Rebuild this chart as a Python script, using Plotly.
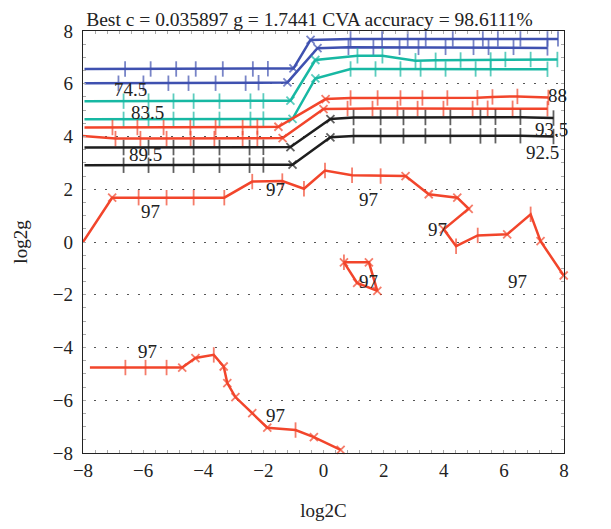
import plotly.graph_objects as go

# ---------------- data ----------------
title_text = "Best c = 0.035897 g = 1.7441 CVA accuracy = 98.6111%"

blue_a_x = [-7.95, -6.6, -5.75, -4.9, -4.25, -3.35, -2.35, -1.85, -1.0, -0.43, 0.9, 1.95, 2.8, 3.4, 4.3, 5.3, 5.8, 6.55, 7.45, 7.8]
blue_a_y = [6.56, 6.56, 6.56, 6.56, 6.56, 6.56, 6.56, 6.57, 6.58, 7.66, 7.70, 7.70, 7.70, 7.70, 7.70, 7.70, 7.70, 7.70, 7.70, 7.70]

blue_b_x = [-7.95, -6.82, -5.99, -5.16, -4.49, -3.59, -2.59, -2.16, -1.2, -0.2, 0.83, 1.66, 2.53, 3.16, 4.06, 4.99, 5.49, 6.32, 7.45]
blue_b_y = [6.02, 6.02, 6.02, 6.02, 6.02, 6.02, 6.02, 6.04, 6.05, 7.35, 7.38, 7.38, 7.38, 7.38, 7.38, 7.38, 7.38, 7.38, 7.36]

teal_a_x = [-7.95, -6.65, -5.82, -4.99, -4.32, -3.46, -2.43, -2.0, -1.1, -0.27, 1.13, 1.96, 3.06, 3.73, 4.56, 5.56, 6.05, 6.89, 7.78]
teal_a_y = [5.34, 5.34, 5.34, 5.34, 5.34, 5.34, 5.34, 5.35, 5.36, 6.90, 7.06, 7.06, 6.87, 6.89, 6.90, 6.90, 6.92, 6.92, 6.92]

teal_b_x = [-7.95, -6.65, -5.82, -4.99, -4.32, -3.46, -2.43, -2.0, -1.03, -0.27, 0.9, 1.73, 2.56, 3.23, 4.06, 5.06, 5.56, 7.45]
teal_b_y = [4.65, 4.65, 4.65, 4.65, 4.65, 4.65, 4.65, 4.66, 4.67, 6.20, 6.56, 6.56, 6.56, 6.56, 6.56, 6.56, 6.57, 6.55]

red_a_x = [-7.95, -7.02, -6.19, -5.32, -4.43, -3.59, -2.69, -2.2, -1.5, 0.07, 0.9, 1.8, 2.56, 3.29, 4.12, 5.12, 5.62, 6.45, 7.48]
red_a_y = [4.34, 4.34, 4.34, 4.34, 4.34, 4.34, 4.34, 4.36, 4.37, 5.42, 5.46, 5.46, 5.46, 5.46, 5.46, 5.47, 5.50, 5.52, 5.48]

red_b_x = [-8.0, -6.92, -6.09, -5.22, -4.42, -3.63, -2.69, -2.2, -1.36, 0.0, 0.8, 1.63, 2.46, 3.13, 3.99, 4.96, 5.46, 6.29, 7.45]
red_b_y = [4.02, 3.92, 3.92, 3.92, 3.92, 3.92, 3.92, 3.93, 3.94, 5.04, 5.06, 5.06, 5.06, 5.06, 5.06, 5.06, 5.07, 5.07, 5.05]

black_a_x = [-7.95, -6.65, -5.82, -4.99, -4.32, -3.46, -2.46, -2.0, -1.1, 0.23, 1.0, 1.9, 2.66, 3.39, 4.22, 5.22, 5.72, 6.55, 7.65]
black_a_y = [3.58, 3.58, 3.58, 3.58, 3.58, 3.58, 3.58, 3.59, 3.60, 4.66, 4.72, 4.72, 4.72, 4.72, 4.72, 4.72, 4.73, 4.73, 4.70]

black_b_x = [-7.95, -6.65, -5.82, -4.99, -4.32, -3.46, -2.46, -2.0, -1.03, 0.23, 1.0, 1.9, 2.66, 3.39, 4.22, 5.22, 5.72, 6.55, 7.65]
black_b_y = [2.91, 2.91, 2.91, 2.91, 2.91, 2.91, 2.91, 2.92, 2.93, 3.97, 4.02, 4.02, 4.02, 4.02, 4.02, 4.02, 4.03, 4.03, 4.00]

r97_a_x = [-8.0, -7.03, -6.15, -5.22, -4.32, -3.3, -2.37, -1.37, -0.65, 0.05, 0.95, 1.9, 2.73, 3.5, 4.45, 4.83, 4.0, 4.41, 5.13, 6.11, 6.89, 7.22, 7.99]
r97_a_y = [0.0, 1.68, 1.68, 1.68, 1.68, 1.68, 2.29, 2.31, 2.02, 2.71, 2.53, 2.50, 2.50, 1.81, 1.68, 1.26, 0.48, -0.16, 0.25, 0.29, 1.05, 0.03, -1.27]

r97_b_x = [0.68, 1.51, 1.79, 1.12, 0.68]
r97_b_y = [-0.77, -0.77, -1.85, -1.55, -0.77]

r97_c_x = [-7.77, -6.59, -5.92, -5.22, -4.70, -4.26, -3.65, -3.32, -3.20, -2.93, -2.37, -1.87, -0.93, -0.32, 0.57]
r97_c_y = [-4.76, -4.76, -4.76, -4.76, -4.76, -4.40, -4.28, -4.72, -5.35, -5.88, -6.49, -7.04, -7.13, -7.40, -7.88]

label_text = ["70", "79", "88", "93.5", "92.5", "74.5", "83.5", "89.5",
              "97", "97", "97", "97", "97", "97", "97", "97"]
label_x = [8.45, 8.45, 7.8, 7.6, 7.3, -6.42, -5.85, -5.92,
           -5.75, -1.6, 1.5, 3.8, 6.45, 1.5, -5.87, -1.6]
label_y = [7.77, 7.05, 5.57, 4.28, 3.40, 5.80, 4.92, 3.33,
           1.17, 2.0, 1.62, 0.48, -1.49, -1.49, -4.15, -6.56]

x_ticks = [-8, -6, -4, -2, 0, 2, 4, 6, 8]
y_ticks = [-8, -6, -4, -2, 0, 2, 4, 6, 8]

# ---------------- styling ----------------
BLUE = "#3f51b0"
TEAL = "#17b8a3"
RED = "#f2452b"
BLACK = "#1e1e1e"
FONT = "Liberation Serif"
TXT = "#222222"

series = [
    (blue_a_x, blue_a_y, BLUE), (blue_b_x, blue_b_y, BLUE),
    (teal_a_x, teal_a_y, TEAL), (teal_b_x, teal_b_y, TEAL),
    (red_a_x, red_a_y, RED), (red_b_x, red_b_y, RED),
    (black_a_x, black_a_y, BLACK), (black_b_x, black_b_y, BLACK),
    (r97_a_x, r97_a_y, RED), (r97_b_x, r97_b_y, RED), (r97_c_x, r97_c_y, RED),
]


def marker_style(xs, ys):
    syms, sizes = [], []
    n = len(xs)
    for i in range(n):
        a = max(i - 1, 0)
        b = min(i + 1, n - 1)
        px = (xs[b] - xs[a]) * 30.0
        py = (ys[b] - ys[a]) * 26.3
        if abs(py) < 0.3 * abs(px):
            syms.append("line-ns")
            sizes.append(11)
        elif abs(px) < 0.3 * abs(py):
            syms.append("line-ew")
            sizes.append(11)
        else:
            syms.append("x-thin")
            sizes.append(8)
        if xs[i] <= -7.7:
            sizes[-1] = 0
    return syms, sizes


fig = go.Figure()
for xs, ys, col in series:
    syms, sizes = marker_style(xs, ys)
    fig.add_trace(go.Scatter(
        x=xs, y=ys, mode="lines+markers",
        line=dict(color=col, width=2.5),
        marker=dict(symbol=syms, size=sizes, color=col,
                    line=dict(color=col, width=1.8)),
        showlegend=False, hoverinfo="skip", cliponaxis=False,
    ))

for t, lx, ly in zip(label_text, label_x, label_y):
    fig.add_annotation(x=lx, y=ly, text=t, showarrow=False,
                       xanchor="center", yanchor="middle",
                       font=dict(family=FONT, size=19, color=TXT))

axis_common = dict(
    showline=True, linecolor=TXT, linewidth=1.3, mirror="ticks",
    ticks="inside", ticklen=0, tickcolor="#555555",
    zeroline=False, automargin=False,
    tickfont=dict(family=FONT, size=19, color=TXT),
)

fig.update_xaxes(
    range=[-8, 8], tickmode="array", tickvals=x_ticks,
    showgrid=False,
    minor=dict(ticks="inside", ticklen=3, dtick=0.4, tickcolor="#aaaaaa", showgrid=False),
    title=dict(text="log2C", font=dict(family=FONT, size=19, color=TXT), standoff=24),
    **axis_common,
)
fig.update_yaxes(
    range=[-8, 8], tickmode="array", tickvals=y_ticks,
    showgrid=True, gridcolor="#555555", griddash="2px,9px", gridwidth=1,
    minor=dict(ticks="inside", ticklen=3, dtick=0.5, tickcolor="#aaaaaa", showgrid=False),
    ticklabelstandoff=5,
    title=dict(text="log2g", font=dict(family=FONT, size=19, color=TXT), standoff=20),
    **axis_common,
)

fig.update_layout(
    width=603, height=513,
    margin=dict(l=75, r=47, t=23, b=68),
    paper_bgcolor="white", plot_bgcolor="white",
    title=dict(text=title_text, x=0.5, xanchor="center", y=0.992, yanchor="top",
               pad=dict(t=0), font=dict(family=FONT, size=19.5, color=TXT)),
)

fig.write_html("out.html")
